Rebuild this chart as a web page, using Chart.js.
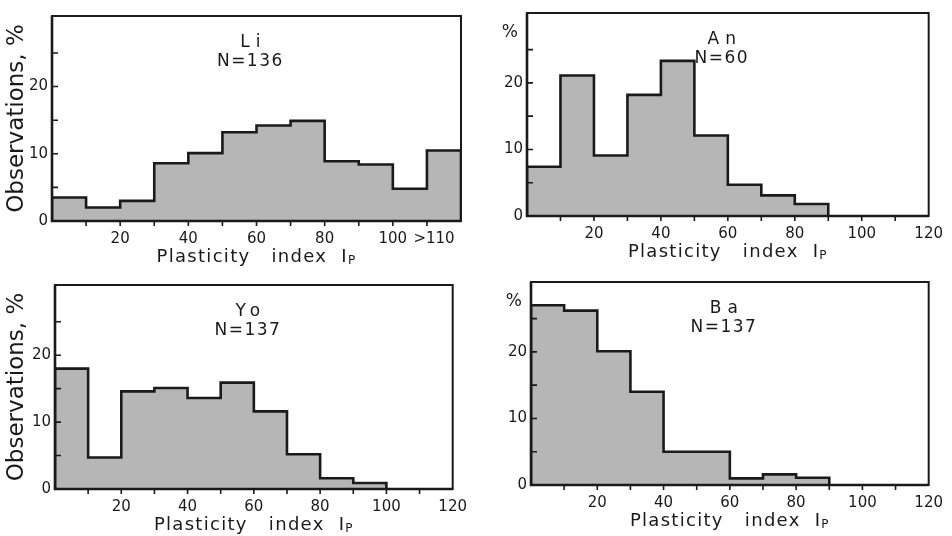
<!DOCTYPE html>
<html>
<head>
<meta charset="utf-8">
<title>Plasticity index histograms</title>
<script src="https://cdn.jsdelivr.net/npm/chart.js@4.4.1/dist/chart.umd.min.js"></script>
<style>
  html, body { margin: 0; padding: 0; background: #fff; }
  #wrap { position: relative; width: 952px; height: 536px; overflow: hidden; }
  #wrap canvas { position: absolute; }
</style>
</head>
<body>
<div id="wrap">
  <canvas id="cLi" width="476" height="268" style="left:0;top:0"></canvas>
  <canvas id="cAn" width="476" height="268" style="left:476px;top:0"></canvas>
  <canvas id="cYo" width="476" height="268" style="left:0;top:268px"></canvas>
  <canvas id="cBa" width="476" height="268" style="left:476px;top:268px"></canvas>
</div>
<script>
// class edges of the plasticity index Ip
const binEdges = [0, 10, 20, 30, 40, 50, 60, 70, 80, 90, 100, 110, 120];

// observations per class, %
const liValues = [3.5, 2.0, 3.0, 8.6, 10.1, 13.2, 14.2, 14.9, 8.9, 8.4, 4.8, 10.5];
const anValues = [7.4, 21.1, 9.1, 18.2, 23.3, 12.1, 4.7, 3.1, 1.8];
const yoValues = [18.0, 4.7, 14.6, 15.1, 13.6, 15.9, 11.6, 5.2, 1.6, 0.9];
const baValues = [27.0, 26.2, 20.1, 14.0, 5.0, 5.0, 1.0, 1.6, 1.1];

const sampleNames = ['Li', 'An', 'Yo', 'Ba'];
const sampleSizes = [136, 60, 137, 137];

// tick labels
const xTickValues = [20, 40, 60, 80, 100, 120];
const xTickLabels = ['20', '40', '60', '80', '100', '120'];
const liTickValues = [20, 40, 60, 80, 100, 110];
const liTickLabels = ['20', '40', '60', '80', '100', '   >110'];
const yTickValues = [0, 10, 20];
const yTickLabels = ['0', '10', '20'];

const INK = '#1a1a1a';
const FILL = '#b6b6b6';
const FONT = '"DejaVu Sans", sans-serif';

Chart.defaults.font.family = FONT;
Chart.defaults.color = INK;

// layout of each panel inside its canvas
const panels = [
  { id: 'cLi', idx: 0, values: liValues, tv: liTickValues, tl: liTickLabels, side: 'left',
    pad: { left: 0, top: 16, right: 15, bottom: 0 }, yW: 52, xH: 47 },
  { id: 'cAn', idx: 1, values: anValues, tv: xTickValues, tl: xTickLabels, side: 'right',
    pad: { left: 0, top: 12, right: 17, bottom: 0 }, yW: 51, xH: 52 },
  { id: 'cYo', idx: 2, values: yoValues, tv: xTickValues, tl: xTickLabels, side: 'left',
    pad: { left: 0, top: 17, right: 13, bottom: 0 }, yW: 55, xH: 47 },
  { id: 'cBa', idx: 3, values: baValues, tv: xTickValues, tl: xTickLabels, side: 'right',
    pad: { left: 0, top: 14, right: 14, bottom: 0 }, yW: 55, xH: 51 }
];

// outline of a histogram as a stepped line: up from 0, across every class, back down
function stepPoints(values) {
  const pts = [{ x: binEdges[0], y: 0 }];
  values.forEach((v, i) => pts.push({ x: binEdges[i], y: v }));
  pts.push({ x: binEdges[values.length], y: 0 });
  return pts;
}

// frame, tick marks, sample name and x axis title with subscript
function makeDecor(p) {
  return {
    id: 'decor',
    afterDraw(chart) {
      const { ctx, chartArea: a, scales: { x, y } } = chart;
      ctx.save();
      ctx.strokeStyle = INK;
      ctx.lineWidth = 2;
      ctx.strokeRect(a.left, a.top, a.right - a.left, a.bottom - a.top);
      ctx.lineWidth = 2.6;
      ctx.beginPath();
      ctx.moveTo(a.left, a.top);
      ctx.lineTo(a.left, a.bottom);
      ctx.lineTo(a.right, a.bottom);
      ctx.stroke();

      ctx.lineWidth = 1.6;
      ctx.beginPath();
      x.ticks.forEach(t => {
        if (t.value <= x.min || t.value >= x.max) return;
        const px = x.getPixelForValue(t.value);
        ctx.moveTo(px, a.bottom);
        ctx.lineTo(px, a.bottom + 5);
      });
      y.ticks.forEach(t => {
        if (t.value <= 0 || t.value >= 30) return;
        const py = y.getPixelForValue(t.value);
        ctx.moveTo(a.left, py);
        ctx.lineTo(a.left + 6, py);
      });
      ctx.stroke();

      ctx.fillStyle = INK;
      const cx = a.left + (a.right - a.left) * 0.485;
      ctx.textAlign = 'center';
      ctx.textBaseline = 'middle';
      ctx.font = '17px ' + FONT;
      ctx.letterSpacing = '6px';
      ctx.fillText(sampleNames[p.idx], cx + 3, a.top + 27);
      ctx.letterSpacing = '1.5px';
      ctx.fillText('N=' + sampleSizes[p.idx], cx, a.top + 46);

      if (p.side === 'right') {
        ctx.letterSpacing = '0px';
        ctx.textAlign = 'right';
        ctx.fillText('%', a.left - 9, a.top + 20);
      }

      // x axis title: Plasticity index Ip
      ctx.letterSpacing = '1.3px';
      ctx.textAlign = 'left';
      ctx.textBaseline = 'alphabetic';
      ctx.font = '18px ' + FONT;
      const main = 'Plasticity   index  I';
      const w1 = ctx.measureText(main).width;
      ctx.font = '12px ' + FONT;
      const w2 = ctx.measureText('P').width;
      const x0 = (a.left + a.right) / 2 - (w1 + w2) / 2;
      const base = a.bottom + 41;
      ctx.font = '18px ' + FONT;
      ctx.fillText(main, x0, base);
      ctx.font = '12px ' + FONT;
      ctx.fillText('P', x0 + w1, base + 2);
      ctx.restore();
    }
  };
}

panels.forEach(p => {
  const ctx = document.getElementById(p.id).getContext('2d');
  new Chart(ctx, {
    type: 'line',
    data: {
      datasets: [{
        data: stepPoints(p.values),
        stepped: true,
        fill: 'origin',
        backgroundColor: FILL,
        borderColor: INK,
        borderWidth: 2.6,
        pointRadius: 0,
        tension: 0
      }]
    },
    options: {
      responsive: false,
      animation: false,
      events: [],
      layout: { padding: p.pad },
      plugins: { legend: { display: false }, tooltip: { enabled: false } },
      scales: {
        x: {
          type: 'linear',
          min: 0,
          max: 120,
          grid: { display: false, drawTicks: false },
          border: { display: false },
          ticks: {
            stepSize: 10,
            autoSkip: false,
            maxRotation: 0,
            padding: 9,
            font: { size: 15 },
            callback: v => {
              const i = p.tv.indexOf(v);
              return i < 0 ? '' : p.tl[i];
            }
          },
          afterFit: s => { s.height = p.xH; }
        },
        y: {
          min: 0,
          max: 30.5,
          grid: { display: false, drawTicks: false },
          border: { display: false },
          ticks: {
            stepSize: 5,
            padding: 4,
            font: { size: 15 },
            callback: v => {
              const i = yTickValues.indexOf(v);
              return i < 0 ? '' : yTickLabels[i];
            }
          },
          title: {
            display: p.side === 'left',
            text: 'Observations, %',
            font: { size: 23 },
            padding: { top: 3, bottom: 0 }
          },
          afterFit: s => { s.width = p.yW; }
        }
      }
    },
    plugins: [makeDecor(p)]
  });
});
</script>
</body>
</html>
